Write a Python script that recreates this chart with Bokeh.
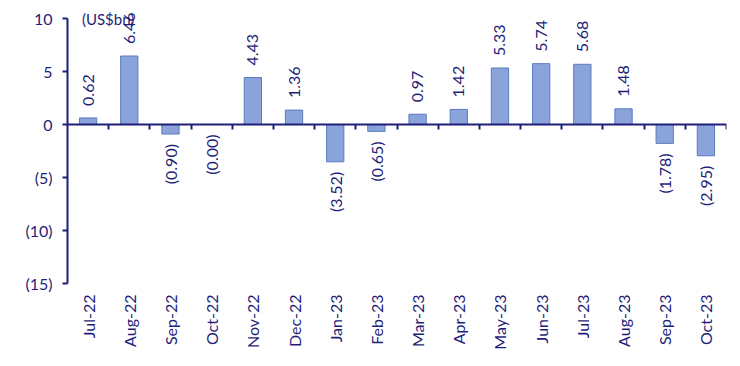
import math
from bokeh.plotting import figure
from bokeh.models import (Range1d, FixedTicker, LinearAxis, ColumnDataSource,
                          LabelSet, Label)
from bokeh.core.properties import value
from bokeh.embed import file_html
from bokeh.resources import INLINE

months = ["Jul-22", "Aug-22", "Sep-22", "Oct-22", "Nov-22", "Dec-22", "Jan-23",
          "Feb-23", "Mar-23", "Apr-23", "May-23", "Jun-23", "Jul-23", "Aug-23",
          "Sep-23", "Oct-23"]
values = [0.62, 6.46, -0.90, 0.00, 4.43, 1.36, -3.52, -0.65, 0.97, 1.42,
          5.33, 5.74, 5.68, 1.48, -1.78, -2.95]
y_ticks = [-15, -10, -5, 0, 5, 10]
y_tick_labels = ["(15)", "(10)", "(5)", "0", "5", "10"]
unit_label = "(US$bn)"

NAVY = "#1f1f7a"
FONT = "Lato"
Y_MIN, Y_MAX = -15, 10

def fmt(v):
    return f"({abs(v):.2f})" if v <= 0 else f"{v:.2f}"

xs = [i + 0.5 for i in range(len(months))]

# frame extends 14px above the top of the value axis so labels are not clipped
px_per_unit = 265 / (Y_MAX - Y_MIN)
p = figure(width=730, height=360, output_backend="svg", toolbar_location=None,
           x_range=Range1d(0, len(months)),
           y_range=Range1d(Y_MIN, Y_MAX + 14 / px_per_unit),
           min_border_left=67, min_border_right=4, min_border_top=4,
           min_border_bottom=77)
p.outline_line_color = None
p.grid.visible = False
p.background_fill_color = "white"

p.vbar(x=xs, top=values, bottom=0, width=0.42, fill_color="#8aa4db",
       line_color="#5b7bc0", line_width=1)

# category axis (bottom)
xa = p.xaxis[0]
xa.ticker = FixedTicker(ticks=xs)
xa.major_label_overrides = {x: m for x, m in zip(xs, months)}
xa.major_label_orientation = math.pi / 2
xa.axis_line_color = None
xa.major_tick_line_color = None
xa.minor_tick_line_color = None
xa.major_label_standoff = 5
xa.major_label_text_font = FONT
xa.major_label_text_font_size = "16px"
xa.major_label_text_color = NAVY

# zero line axis
za = LinearAxis(fixed_location=0,
                ticker=FixedTicker(ticks=list(range(1, len(months) + 1))))
za.axis_line_color = NAVY
za.axis_line_width = 2
za.major_tick_line_color = NAVY
za.major_tick_line_width = 2
za.major_tick_in = 0
za.major_tick_out = 5
za.minor_tick_line_color = None
za.major_label_text_font_size = "0px"
za.major_label_text_alpha = 0
p.add_layout(za, "below")

# y axis
ya = p.yaxis[0]
ya.ticker = FixedTicker(ticks=y_ticks)
ya.bounds = (Y_MIN, Y_MAX)
ya.major_label_overrides = {t: l for t, l in zip(y_ticks, y_tick_labels)}
ya.axis_line_color = NAVY
ya.axis_line_width = 2
ya.major_tick_line_color = NAVY
ya.major_tick_line_width = 2
ya.major_tick_in = 0
ya.major_tick_out = 5
ya.minor_tick_line_color = None
ya.major_label_standoff = 10
ya.major_label_text_font = FONT
ya.major_label_text_font_size = "16px"
ya.major_label_text_color = NAVY

pos = ColumnDataSource(dict(
    x=[x for x, v in zip(xs, values) if v > 0],
    y=[v for v in values if v > 0],
    t=[fmt(v) for v in values if v > 0]))
neg = ColumnDataSource(dict(
    x=[x for x, v in zip(xs, values) if v <= 0],
    y=[v for v in values if v <= 0],
    t=[fmt(v) for v in values if v <= 0]))

for src, align, off in [(pos, "left", 12), (neg, "right", -10)]:
    ls = LabelSet(x="x", y="y", text="t", source=src, angle=math.pi / 2,
                  text_align=align, text_baseline="middle", y_offset=off,
                  text_font=value(FONT), text_font_size=value("16px"),
                  text_color=NAVY)
    p.add_layout(ls)

p.add_layout(Label(x=0.35, y=Y_MAX, text=unit_label, text_baseline="middle",
                   text_font=FONT, text_font_size="15px", text_color=NAVY))

open("out.html", "w").write(file_html(p, INLINE))
